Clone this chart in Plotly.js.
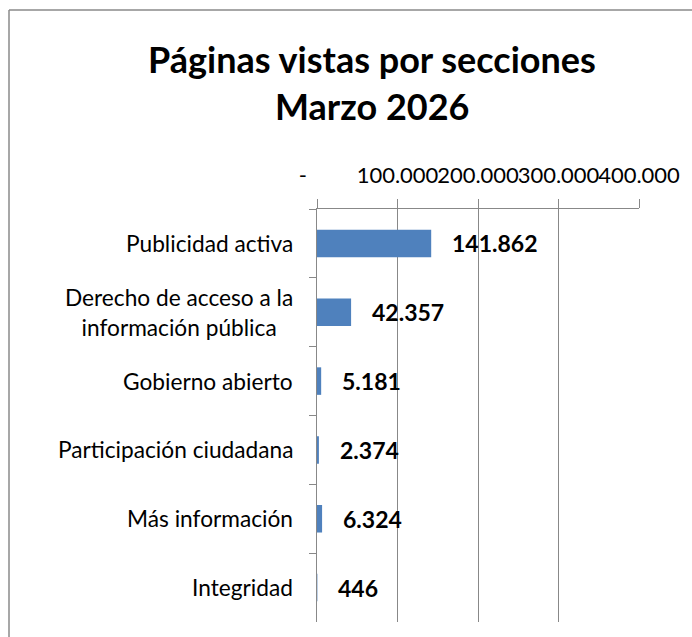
<!DOCTYPE html>
<html>
<head>
<meta charset="utf-8">
<script src="https://cdn.plot.ly/plotly-3.0.1.min.js"></script>
<style>
html, body { margin: 0; padding: 0; background: #fff; }
#chart { width: 692px; height: 637px; }
</style>
</head>
<body>
<div id="chart"></div>
<script>
// ---- data ----
const categories = [
  "Publicidad activa",
  "Derecho de acceso a la<br>información pública",
  "Gobierno abierto",
  "Participación ciudadana",
  "Más información",
  "Integridad"
];
const values = [141862, 42357, 5181, 2374, 6324, 446];
const valueLabels = ["141.862", "42.357", "5.181", "2.374", "6.324", "446"];
const tickValues = [0, 100000, 200000, 300000, 400000];
const tickLabels = ["-\u00a0\u00a0\u00a0\u00a0\u00a0", "100.000", "200.000", "300.000", "400.000"];
const titleLine1 = "Páginas vistas por secciones";
const titleLine2 = "Marzo 2026";

// ---- layout constants ----
const W = 692, H = 637;
const mL = 317, mR = 53, mT = 209, mB = 15;
const pw = W - mL - mR, ph = H - mT - mB;
const px = v => (v - mL) / pw;           // pixel -> paper x
const py = v => (H - mB - v) / ph;       // pixel -> paper y
const FONT = "Lato, 'Open Sans', sans-serif";
const GRID = "#888888";

const trace = {
  type: "bar",
  orientation: "h",
  x: values,
  y: categories,
  marker: { color: "#4F81BD" },
  hoverinfo: "x+y"
};

const annotations = [];
categories.forEach((c, i) => {
  annotations.push({
    xref: "paper", yref: "y", x: 0, y: c,
    xanchor: "right", yanchor: "middle", xshift: -22,
    text: c, showarrow: false, align: "center",
    font: { family: FONT, size: 22.7, color: "#000" }
  });
  annotations.push({
    xref: "x", yref: "y", x: values[i], y: c,
    xanchor: "left", yanchor: "middle", xshift: 19,
    text: "<b>" + valueLabels[i] + "</b>", showarrow: false,
    font: { family: FONT, size: 23, color: "#000" }
  });
});
annotations.push({
  xref: "paper", yref: "paper", x: px(372), y: py(106),
  xanchor: "center", yanchor: "middle",
  text: "<b>" + titleLine2 + "</b>", showarrow: false,
  font: { family: FONT, size: 36, color: "#000" }
});

const layout = {
  width: W, height: H,
  margin: { l: mL, r: mR, t: mT, b: mB, pad: 0 },
  paper_bgcolor: "#fff", plot_bgcolor: "#fff",
  showlegend: false,
  bargap: 0.6,
  font: { family: FONT, color: "#000" },
  title: {
    text: "<b>" + titleLine1 + "</b>",
    x: 372 / W, xanchor: "center", xref: "container",
    y: 1 - 60 / H, yanchor: "middle", yref: "container",
    font: { family: FONT, size: 36, color: "#000" }
  },
  xaxis: {
    side: "top",
    range: [0, 400000],
    tickmode: "array", tickvals: tickValues, ticktext: tickLabels,
    tickangle: 0,
    showgrid: true, gridcolor: GRID, gridwidth: 1,
    showline: true, linecolor: GRID, linewidth: 1,
    ticks: "outside", ticklen: 9, tickcolor: GRID, tickwidth: 1,
    ticklabelstandoff: 7,
    tickfont: { family: FONT, size: 22, color: "#000" },
    zeroline: false, fixedrange: true
  },
  yaxis: {
    type: "category",
    autorange: "reversed",
    showticklabels: false,
    tickson: "boundaries",
    ticks: "outside", ticklen: 7, tickcolor: GRID, tickwidth: 1,
    showline: true, linecolor: GRID, linewidth: 1,
    showgrid: false, zeroline: false, fixedrange: true
  },
  annotations: annotations,
  shapes: [
    { type: "line", xref: "paper", yref: "paper", x0: px(9), x1: px(9), y0: py(10), y1: py(H + 2),
      line: { color: "#8a8a8a", width: 1.5 } },
    { type: "line", xref: "paper", yref: "paper", x0: px(9), x1: px(W + 2), y0: py(10), y1: py(10),
      line: { color: "#8a8a8a", width: 1.5 } }
  ]
};

Plotly.newPlot("chart", [trace], layout, { displayModeBar: false, staticPlot: true });
</script>
</body>
</html>
